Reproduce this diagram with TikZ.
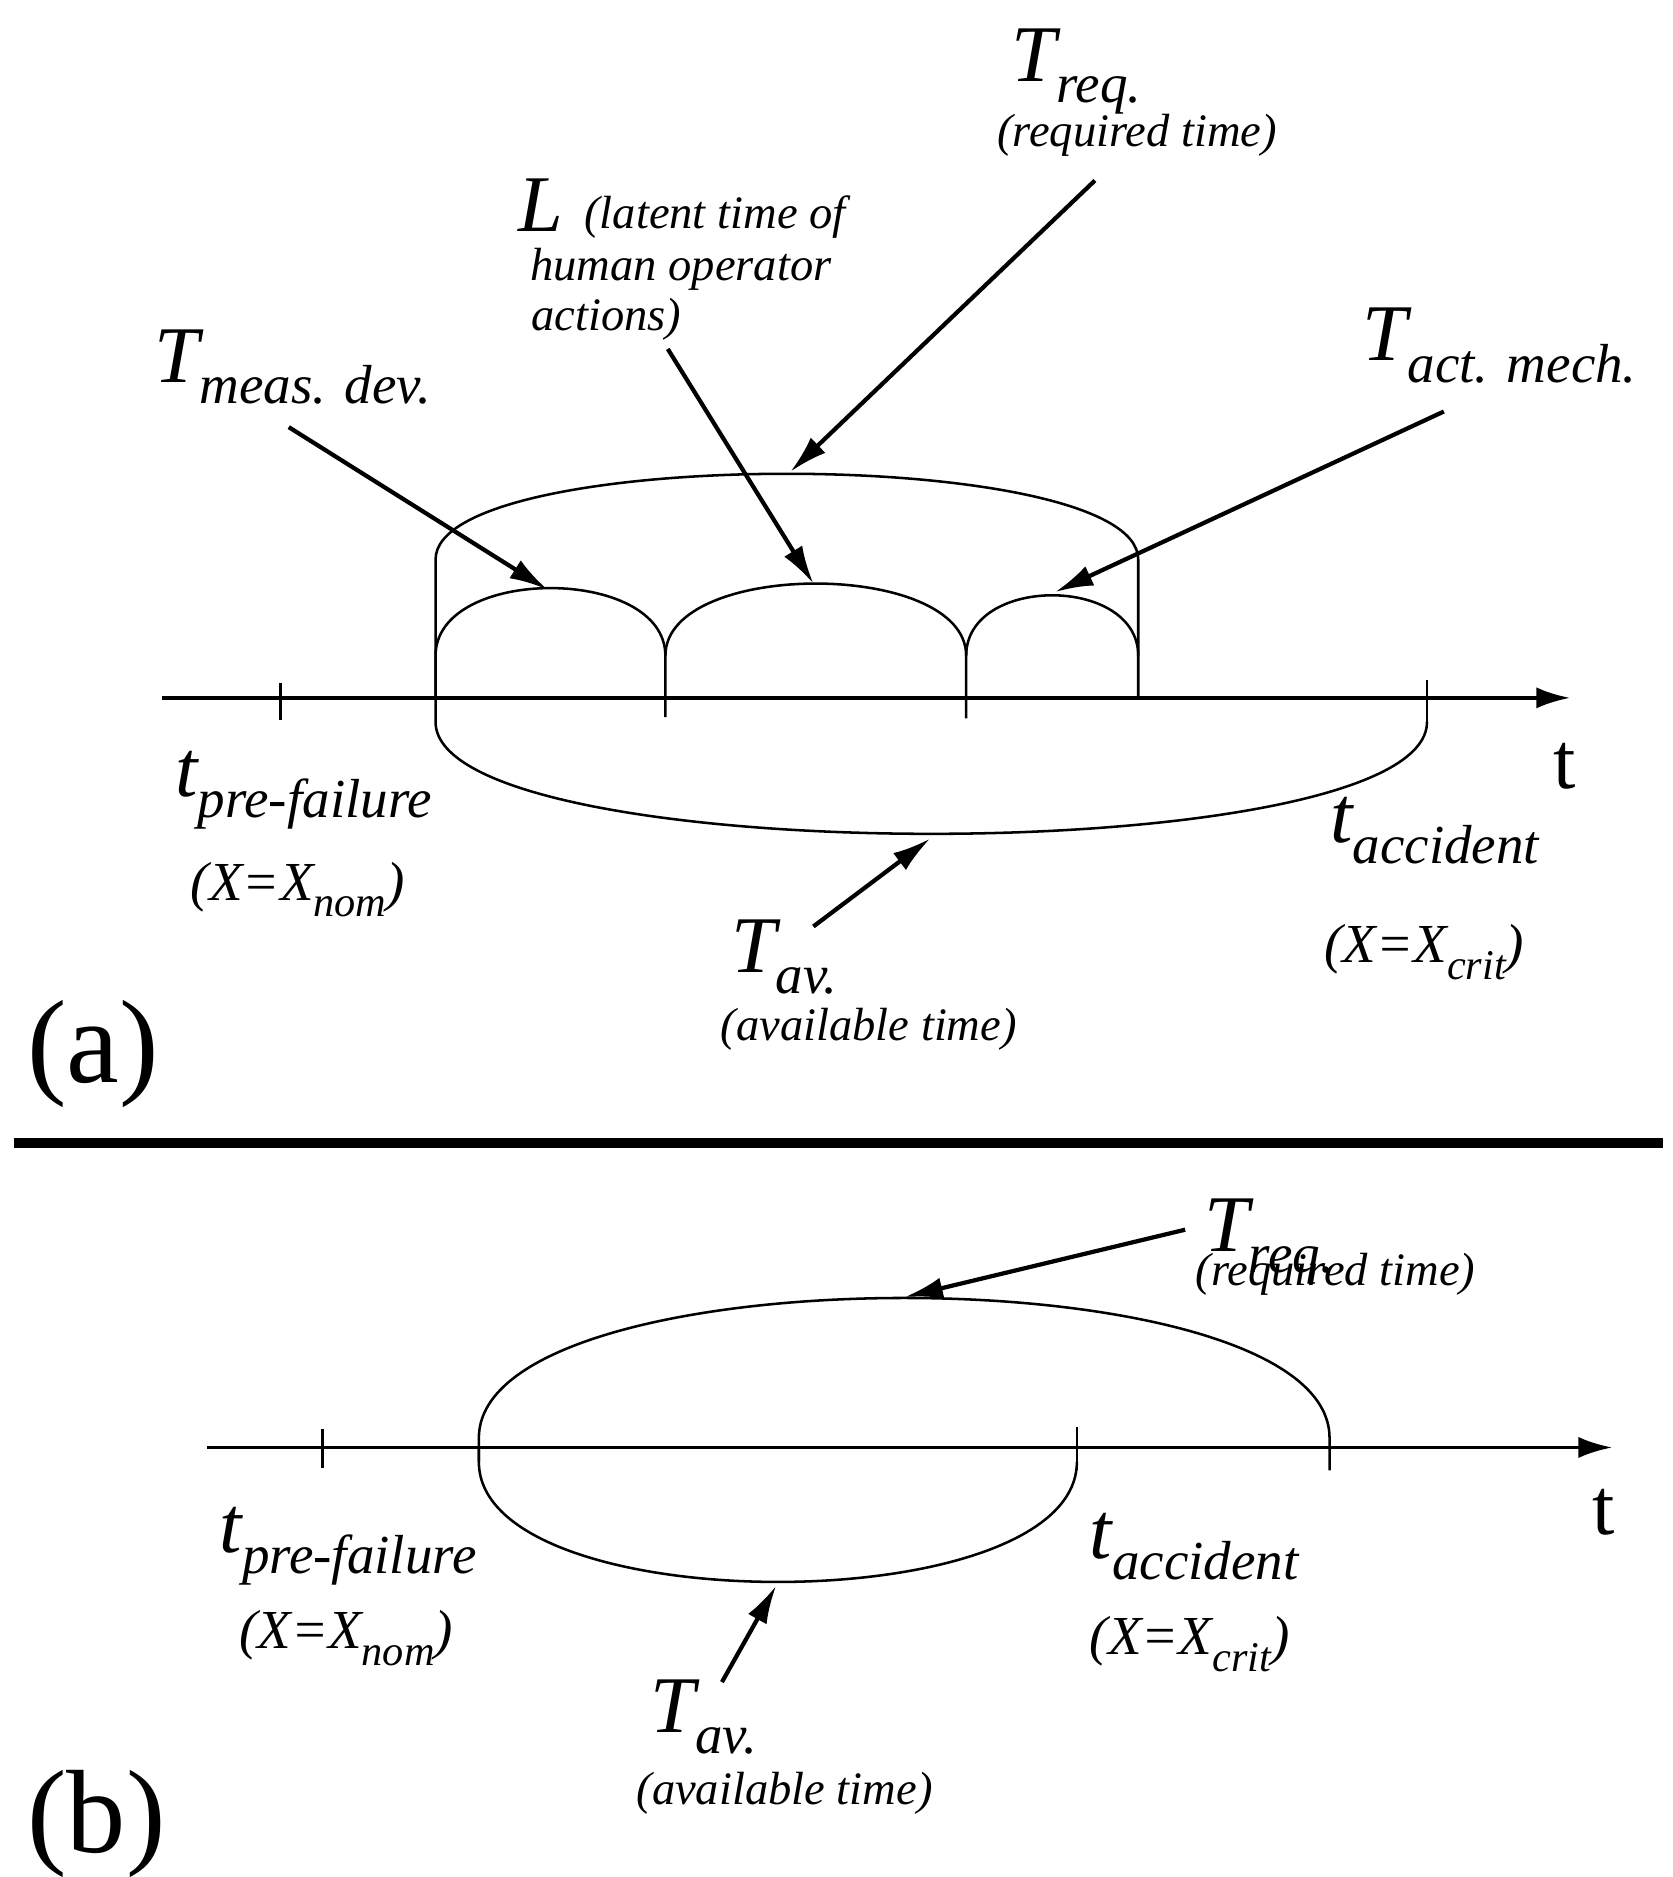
\documentclass[tikz,border=0pt]{standalone}
\usepackage{fontspec}
\setmainfont{Liberation Serif}
\usetikzlibrary{arrows.meta}
\newcommand{\Lab}[2]{{\fontsize{19}{22}\selectfont\itshape #1}{\raisebox{-5pt}{\fontsize{13}{15}\selectfont\itshape #2}}}
\newcommand{\Xl}[1]{{\fontsize{13}{15}\selectfont\itshape (X=X\raisebox{-4pt}{\fontsize{10}{12}\selectfont #1})}}
\newcommand{\sm}{\fontsize{11}{13}\selectfont\itshape}
\begin{document}
\begin{tikzpicture}[x=0.01cm,y=-0.01cm,
  ln/.style={line width=0.6pt},
  ax/.style={line width=0.9pt,-{Latex[length=8pt,width=5pt]}},
  ar/.style={line width=1pt,-{Latex[length=9pt,width=5pt]}},
  lbl/.style={inner sep=0pt,anchor=base west},
  lblc/.style={inner sep=0pt,anchor=base}]
\useasboundingbox (0,0) rectangle (1390,1560);
% (a)
\coordinate (a0) at (135,580); \coordinate (a1) at (1305,580);
\draw[ax] (a0) -- (a1);
\draw[ln] (233,568) -- (233,598);
\draw[ln] (1186,565) -- (1186,600);
\draw[ln] (362,580) -- (362,465) .. controls (362,370) and (946,370) .. (946,465) -- (946,580);
\draw[ln] (362,580) -- (362,545) .. controls (362,470) and (553,470) .. (553,545) -- (553,596);
\draw[ln] (553,545) .. controls (553,465) and (803,465) .. (803,545) -- (803,597);
\draw[ln] (803,545) .. controls (803,478) and (946,478) .. (946,545);
\draw[ln] (362,580) -- (362,600) .. controls (362,724) and (1186,724) .. (1186,600);
\coordinate (pm) at (455,490); \coordinate (pl) at (676,485);
\coordinate (pr) at (657,392); \coordinate (pa) at (877,492); \coordinate (pv) at (773,697);
\node[lbl] (tm) at (128,318) {\Lab{T}{meas. dev.}};
\node[lbl] (L) at (430,192) {{\fontsize{19}{22}\selectfont\itshape L}};
\node[lbl] (L1) at (485,190) {\sm (latent time of};
\node[lbl] (L2) at (440,233) {\sm human operator};
\node[lbl] (L3) at (441,275) {\sm actions)};
\node[lbl] (tr) at (840,68) {\Lab{T}{req.}};
\node[lblc] (tr2) at (945,122) {\sm (required time)};
\node[lbl] (ta) at (1132,300) {\Lab{T}{act. mech.}};
\node[lbl] (tp) at (145,662) {\Lab{t}{pre-failure}};
\node[lbl] (xn) at (158,748) {\Xl{nom}};
\node[lbl] (tc) at (1105,700) {\Lab{t}{accident}};
\node[lbl] (xc) at (1100,800) {\Xl{crit}};
\node[lbl] (tv) at (607,808) {\Lab{T}{av.}};
\node[lblc] (tv2) at (722,865) {\sm (available time)};
\node[lblc] (t1) at (1300,655) {\fontsize{19}{22}\selectfont t};
\node[lbl] (la) at (22,900) {\fontsize{28}{32}\selectfont (a)};
\draw[ar] (240,355) -- (pm);
\draw[ar] (555,290) -- (pl);
\draw[ar] (910,150) -- (pr);
\draw[ar] (1200,342) -- (pa);
\draw[ar] (676,770) -- (pv);
\draw[line width=2.2pt] (12,950) -- (1382,950);
% (b)
\draw[ax] (172,1203) -- (1340,1203);
\draw[ln] (268,1188) -- (268,1220);
\draw[ln] (895,1186) -- (895,1222);
\draw[ln] (398,1215) -- (398,1195) .. controls (398,1040) and (1105,1040) .. (1105,1195) -- (1105,1222);
\draw[ln] (398,1203) -- (398,1215) .. controls (398,1348) and (895,1348) .. (895,1215);
\coordinate (qr) at (752,1078); \coordinate (qv) at (645,1318);
\node[lbl] (br) at (1000,1040) {\Lab{T}{req.}};
\node[lblc] (br2) at (1110,1068) {\sm (required time)};
\node[lbl] (bp) at (182,1290) {\Lab{t}{pre-failure}};
\node[lbl] (bxn) at (198,1370) {\Xl{nom}};
\node[lbl] (bc) at (905,1295) {\Lab{t}{accident}};
\node[lbl] (bxc) at (905,1375) {\Xl{crit}};
\node[lbl] (bv) at (540,1440) {\Lab{T}{av.}};
\node[lblc] (bv2) at (652,1500) {\sm (available time)};
\node[lblc] (t2) at (1333,1275) {\fontsize{19}{22}\selectfont t};
\node[lbl] (lb) at (22,1540) {\fontsize{28}{32}\selectfont (b)};
\draw[ar] (985,1022) -- (qr);
\draw[ar] (600,1398) -- (qv);
\end{tikzpicture}
\end{document}
